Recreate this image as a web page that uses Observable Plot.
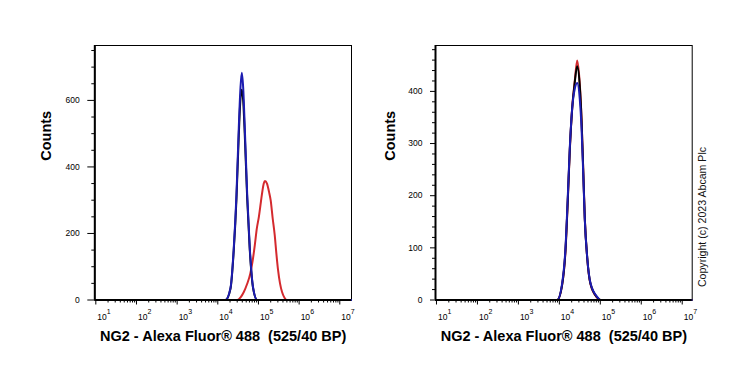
<!DOCTYPE html>
<html><head><meta charset="utf-8">
<script src="https://cdn.jsdelivr.net/npm/d3@7"></script>
<script src="https://cdn.jsdelivr.net/npm/@observablehq/plot@0.6"></script>
<style>
html,body{margin:0;padding:0;background:#fff}
body{width:739px;height:370px;overflow:hidden;position:relative;font-family:Arial,"Liberation Sans",sans-serif}
#left{position:absolute;left:0;top:0}
#right{position:absolute;left:369px;top:0}
#copy{position:absolute;left:702px;top:216.5px;transform:translate(-50%,-50%) rotate(-90deg);font-size:10.6px;white-space:nowrap;color:#111;font-family:Arial,"Liberation Sans",sans-serif}
svg{overflow:visible}
</style></head>
<body>
<div id="left"></div><div id="right"></div>
<div id="copy"></div>
<script>
// ---- data (fluorescence intensity, counts) ----
const decadeExponents = [1, 2, 3, 4, 5, 6, 7];
const xTitle = "NG2 - Alexa Fluor\u00ae 488\u00a0 (525/40 BP)";
const yTitle = "Counts";
const copyright = "Copyright (c) 2023 Abcam Plc";

const leftYTicks = [0, 200, 400, 600];
const rightYTicks = [0, 100, 200, 300, 400];

// left panel
const leftCtlX   = [10, 15450, 20500, 24700, 28800, 32800, 36100, 38900, 42100, 46100, 52800, 61200, 74100, 92900, 19000000];
const leftBlueY  = [0, 0, 36, 156, 318, 518, 638, 683, 638, 518, 318, 156, 36, 0, 0];
const leftBlackY = [0, 0, 34, 150, 305, 495, 605, 632, 600, 495, 305, 150, 34, 0, 0];
const leftRedX   = [10, 30200, 36300, 43650, 52500, 63100, 72400, 81300, 91200, 102300, 114800, 125900, 134900, 144500, 162200, 182000, 199500, 223900, 251200, 275400, 302000, 338800, 380200, 436500, 501200, 19000000];
const leftRedY   = [0, 0, 8, 24, 48, 80, 120, 165, 215, 250, 295, 330, 350, 358, 350, 325, 300, 245, 195, 140, 92, 50, 24, 7, 0, 0];

// right panel
const rightX      = [10, 8850, 11750, 14130, 16070, 17990, 20610, 23820, 27290, 31550, 34750, 38190, 41780, 47860, 57680, 83950, 101200, 17000000];
const rightRedY   = [0, 0, 30, 94, 190, 286, 369, 420, 459, 414, 350, 254, 158, 81, 30, 4, 0, 0];
const rightBlackY = [0, 0, 30, 96, 192, 288, 368, 418, 448, 410, 348, 252, 157, 82, 31, 5, 0, 0];
const rightBlueY  = [0, 0, 33, 100, 198, 292, 368, 405, 416, 385, 332, 245, 155, 82, 32, 6, 0, 0];

const RED = "#d42a2e", BLUE = "#1c1cb0", BLACK = "#000";

function series(xs, ys, name) { return xs.map((x, i) => ({x, y: ys[i], name})); }

function panel(opts) {
  const {el, width, marginLeft, marginRight, xDomain, yDomain, yTicks, yMinorStep, lines, yTickSize, countsDx} = opts;
  const minorX = [];
  for (let k = 0; k <= 7; k++) for (let m = 2; m <= 9; m++) {
    const v = m * Math.pow(10, k);
    if (v > xDomain[0] && v < xDomain[1]) minorX.push(v);
  }
  const majorX = decadeExponents.map(e => Math.pow(10, e));
  const minorY = d3.range(0, yDomain[1], yMinorStep).filter(v => !yTicks.includes(v));
  const marks = [
    Plot.frame({stroke: "#000", strokeWidth: 1}),
    ...lines.map(l => Plot.line(l.data, {x: "x", y: "y", stroke: l.color, strokeWidth: 2, curve: "monotone-x"})),
    Plot.ruleX([xDomain[0]], {stroke: "#000", strokeWidth: 2}),
    Plot.ruleY([yDomain[0]], {stroke: "#000", strokeWidth: 2}),
    Plot.axisX(majorX, {tickSize: 5, tickFormat: () => "", label: null}),
    Plot.axisX(minorX, {tickSize: 3, tickFormat: () => "", label: null}),
    Plot.axisY(yTicks, {tickSize: yTickSize, tickPadding: 8, fontSize: 8.5, label: null, tickFormat: d => String(d)}),
    Plot.axisY(minorY, {tickSize: 3, tickFormat: () => "", label: null}),
    Plot.text(majorX, {x: d => d, frameAnchor: "bottom", text: () => "10", textAnchor: "start", dx: 1.5, dy: 19.5, fontSize: 8.5}),
    Plot.text(majorX, {x: d => d, frameAnchor: "bottom", text: d => String(Math.round(Math.log10(d))), textAnchor: "start", dx: 11, dy: 13.5, fontSize: 7}),
    Plot.text([xTitle], {frameAnchor: "bottom", dy: 40.5, fontSize: 14.5, fontWeight: "bold", fill: "#000"}),
    Plot.text([yTitle], {frameAnchor: "left", dx: countsDx, dy: -12, rotate: -90, fontSize: 14.5, fontWeight: "bold", fill: "#000"})
  ];
  const p = Plot.plot({
    width, height: 370,
    marginLeft, marginRight, marginTop: 45, marginBottom: 70.5,
    style: {fontFamily: "Arial, 'Liberation Sans', sans-serif", color: "#000", background: "#fff", overflow: "visible"},
    x: {type: "log", domain: xDomain},
    y: {domain: yDomain},
    marks
  });
  document.getElementById(el).appendChild(p);
}

panel({
  el: "left", width: 370, marginLeft: 94.3, marginRight: 19,
  xDomain: [Math.pow(10, 0.975), Math.pow(10, 7.288)], yDomain: [0, 765],
  yTicks: leftYTicks, yMinorStep: 50, yTickSize: 7, countsDx: -48.5,
  lines: [
    {data: series(leftRedX, leftRedY, "red"), color: RED},
    {data: series(leftCtlX, leftBlackY, "black"), color: BLACK},
    {data: series(leftCtlX, leftBlueY, "blue"), color: BLUE}
  ]
});
panel({
  el: "right", width: 370, marginLeft: 66, marginRight: 47.3,
  xDomain: [Math.pow(10, 0.976), Math.pow(10, 7.244)], yDomain: [0, 488],
  yTicks: rightYTicks, yMinorStep: 20, yTickSize: 5, countsDx: -45,
  lines: [
    {data: series(rightX, rightRedY, "red"), color: RED},
    {data: series(rightX, rightBlackY, "black"), color: BLACK},
    {data: series(rightX, rightBlueY, "blue"), color: BLUE}
  ]
});
document.getElementById("copy").textContent = copyright;
</script>
</body></html>
